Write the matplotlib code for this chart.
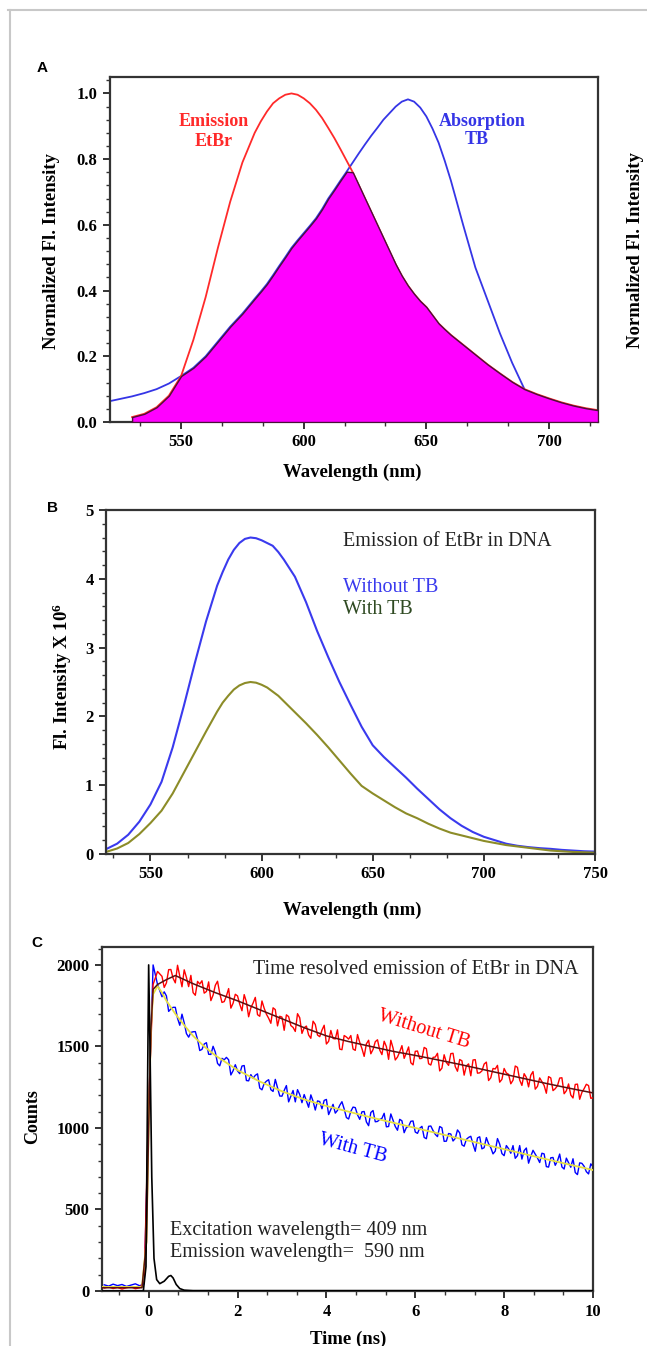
import numpy as np
import matplotlib
matplotlib.use('Agg')
import matplotlib.pyplot as plt
from matplotlib.ticker import MultipleLocator, AutoMinorLocator
from matplotlib.lines import Line2D

# ---- panel A: normalised spectra (overlap of EtBr emission and TB absorption)
wl_a = [520, 525, 530, 535, 540, 545, 550, 555, 560, 565, 570, 575, 580, 582.5, 585,
        587.5, 590, 592.5, 595, 597.5, 600, 602.5, 605, 607.5, 610, 612.5, 615, 617.5,
        620, 622.5, 625, 627.5, 630, 632.5, 635, 637.5, 640, 642.5, 645, 647.5, 650,
        652.5, 655, 657.5, 660, 665, 670, 675, 680, 685, 690, 695, 700, 705, 710, 715, 720]
emission_etbr = [np.nan, np.nan, 0.015, 0.025, 0.045, 0.08, 0.14, 0.25, 0.38, 0.53, 0.67,
                 0.79, 0.88, 0.915, 0.945, 0.97, 0.985, 0.996, 1.0, 0.996, 0.985, 0.97,
                 0.95, 0.925, 0.895, 0.864, 0.83, 0.795, 0.76, 0.72, 0.68, 0.64, 0.60,
                 0.56, 0.52, 0.48, 0.445, 0.415, 0.39, 0.368, 0.35, 0.325, 0.30, 0.282,
                 0.265, 0.235, 0.205, 0.175, 0.148, 0.122, 0.10, 0.085, 0.072, 0.06,
                 0.05, 0.042, 0.036]
absorption_tb = [0.062, 0.07, 0.078, 0.088, 0.10, 0.117, 0.14, 0.165, 0.20, 0.245, 0.29,
                 0.33, 0.375, 0.397, 0.42, 0.447, 0.475, 0.502, 0.53, 0.553, 0.575, 0.597,
                 0.62, 0.648, 0.68, 0.707, 0.735, 0.762, 0.79, 0.818, 0.845, 0.871, 0.895,
                 0.92, 0.94, 0.96, 0.975, 0.982, 0.975, 0.957, 0.93, 0.893, 0.85, 0.795,
                 0.735, 0.60, 0.47, 0.37, 0.27, 0.18, 0.10, 0.05, 0.02, 0.005, 0.0,
                 np.nan, np.nan]

# ---- panel B: steady state emission of EtBr in DNA
wl_b = [530, 535, 540, 545, 550, 555, 560, 565, 570, 575, 580, 582.5, 585, 587.5, 590,
        592.5, 595, 597.5, 600, 602.5, 605, 607.5, 610, 615, 620, 625, 630, 635, 640,
        645, 650, 655, 660, 665, 670, 675, 680, 685, 690, 695, 700, 705, 710, 715, 720,
        725, 730, 735, 740, 745, 750]
without_tb = [0.07, 0.15, 0.28, 0.47, 0.72, 1.05, 1.55, 2.15, 2.78, 3.38, 3.90, 4.10, 4.28,
              4.42, 4.52, 4.58, 4.60, 4.59, 4.56, 4.52, 4.48, 4.39, 4.28, 4.03, 3.66,
              3.24, 2.86, 2.50, 2.17, 1.85, 1.58, 1.41, 1.26, 1.11, 0.95, 0.80, 0.65,
              0.52, 0.41, 0.32, 0.25, 0.20, 0.15, 0.12, 0.10, 0.085, 0.075, 0.06, 0.05,
              0.04, 0.035]
with_tb = [0.03, 0.08, 0.16, 0.29, 0.45, 0.63, 0.88, 1.18, 1.48, 1.78, 2.07, 2.20, 2.30,
           2.39, 2.45, 2.485, 2.50, 2.49, 2.46, 2.42, 2.36, 2.30, 2.22, 2.06, 1.90, 1.73,
           1.55, 1.36, 1.17, 0.99, 0.88, 0.78, 0.68, 0.59, 0.52, 0.44, 0.37, 0.31, 0.27,
           0.23, 0.19, 0.16, 0.13, 0.11, 0.09, 0.07, 0.05, 0.04, 0.03, 0.025, 0.02]

# ---- panel C: time resolved decays (channels before the pulse, then 0.3-10 ns, and the
# in-between channels 0.35-9.95 ns)
t_early = np.round(np.arange(-1.0, 0.25, 0.1), 2)
t_main = np.round(np.arange(0.3, 10.01, 0.1), 2)
t_mid = np.round(np.arange(0.35, 9.96, 0.1), 2)
red_early = [18, 25, 15, 22, 12, 20, 26, 14, 20, 60, 1150, 1880, 1960]
red_main = [1930, 1890, 1972, 1890, 1932, 1970, 1867, 1830, 1899, 1903, 1837, 1781,
            1875, 1825, 1775, 1855, 1765, 1810, 1719, 1773, 1737, 1801, 1685, 1734,
            1673, 1737, 1626, 1680, 1694, 1628, 1592, 1676, 1615, 1570, 1655, 1570,
            1600, 1515, 1598, 1546, 1484, 1567, 1545, 1484, 1573, 1487, 1516, 1455,
            1529, 1478, 1532, 1421, 1490, 1435, 1505, 1460, 1400, 1470, 1425, 1494,
            1394, 1433, 1458, 1367, 1402, 1456, 1376, 1420, 1324, 1393, 1417, 1336,
            1350, 1404, 1308, 1362, 1281, 1365, 1329, 1293, 1372, 1261, 1310, 1324,
            1238, 1307, 1261, 1315, 1229, 1259, 1308, 1228, 1202, 1267, 1176, 1241,
            1260, 1185]
red_mid = [1862, 1971, 1918, 1998, 1866, 1923, 1936, 1814, 1883, 1827, 1896, 1815, 1900,
           1770, 1810, 1735, 1820, 1759, 1818, 1682, 1766, 1695, 1779, 1698, 1642, 1726,
           1685, 1599, 1683, 1617, 1701, 1580, 1625, 1550, 1635, 1560, 1630, 1531, 1549,
           1602, 1480, 1558, 1567, 1476, 1525, 1439, 1538, 1482, 1541, 1450, 1499, 1538,
           1417, 1467, 1427, 1497, 1387, 1472, 1427, 1486, 1386, 1435, 1350, 1449, 1384,
           1458, 1348, 1412, 1381, 1320, 1419, 1338, 1392, 1291, 1365, 1384, 1298, 1337,
           1271, 1380, 1294, 1333, 1252, 1346, 1255, 1284, 1213, 1307, 1241, 1306, 1210,
           1270, 1184, 1269, 1218, 1268, 1182]
blue_early = [38, 30, 42, 33, 40, 28, 36, 44, 32, 45, 1100, 2000, 1880]
blue_main = [1805, 1810, 1730, 1740, 1630, 1645, 1557, 1590, 1543, 1482, 1523, 1451,
             1465, 1381, 1418, 1418, 1351, 1350, 1380, 1291, 1327, 1323, 1245, 1273,
             1296, 1224, 1247, 1195, 1260, 1195, 1160, 1205, 1205, 1127, 1164, 1166,
             1118, 1175, 1113, 1091, 1139, 1117, 1055, 1128, 1081, 1099, 1037, 1095,
             1038, 1052, 1090, 1009, 1047, 986, 1044, 1003, 1041, 975, 998, 942, 1010,
             984, 947, 1001, 919, 963, 936, 970, 888, 942, 900, 939, 872, 941, 879,
             858, 901, 830, 873, 892, 830, 809, 877, 826, 839, 788, 841, 760, 819,
             798, 761, 815, 759, 727, 786, 765, 718, 762]
blue_mid = [1835, 1715, 1740, 1673, 1698, 1579, 1586, 1591, 1475, 1515, 1452, 1501, 1396,
            1427, 1433, 1325, 1388, 1333, 1383, 1289, 1305, 1332, 1234, 1287, 1235, 1298,
            1196, 1230, 1160, 1230, 1235, 1155, 1166, 1203, 1110, 1162, 1169, 1082, 1145,
            1108, 1161, 1064, 1102, 1125, 1053, 1101, 1014, 1107, 1040, 1059, 1007, 1086,
            1009, 1053, 971, 1010, 1043, 967, 1010, 934, 1012, 961, 1009, 918, 966, 920,
            988, 897, 930, 949, 857, 946, 879, 903, 841, 935, 843, 892, 845, 814, 892,
            861, 784, 863, 816, 845, 763, 817, 771, 840, 748, 787, 811, 714, 783, 732, 780]
t_fit_red = [-1.05, -0.15, -0.05, 0.0, 0.05, 0.1, 0.2, 0.4, 0.6, 1.0, 1.5, 2.0, 2.5, 3.0,
             3.5, 4.0, 4.5, 5.0, 5.5, 6.0, 6.5, 7.0, 7.5, 8.0, 8.5, 9.0, 9.5, 10.0]
fit_red = [20, 20, 300, 1000, 1600, 1850, 1880, 1910, 1935, 1885, 1830, 1780, 1725, 1670,
           1615, 1565, 1530, 1500, 1470, 1445, 1418, 1390, 1360, 1330, 1300, 1270, 1242, 1215]
t_fit_blue = [-1.05, -0.15, -0.05, 0.0, 0.05, 0.1, 0.2, 0.3, 0.4, 0.6, 0.8, 1.0, 1.25, 1.5,
              2.0, 2.5, 3.0, 3.5, 4.0, 5.0, 6.0, 7.0, 8.0, 9.0, 10.0]
fit_blue = [25, 25, 300, 1000, 1600, 1820, 1870, 1830, 1780, 1700, 1630, 1565, 1500, 1445,
            1355, 1285, 1225, 1175, 1135, 1065, 1000, 935, 870, 805, 742]
t_irf = [-1.05, -0.12, -0.06, -0.02, 0.0, 0.03, 0.07, 0.12, 0.18, 0.25, 0.35, 0.45, 0.5,
         0.55, 0.62, 0.7, 0.8, 1.0, 2.0, 10.0]
irf = [0, 0, 150, 1400, 2000, 1500, 700, 200, 70, 45, 60, 90, 95, 80, 40, 15, 5, 2, 2, 2]

W, H = 647, 1346
plt.rcParams['font.family'] = 'Liberation Serif'
plt.rcParams['font.weight'] = 'bold'
plt.rcParams['mathtext.fontset'] = 'custom'
plt.rcParams['mathtext.rm'] = 'Liberation Serif:bold'
plt.rcParams['mathtext.default'] = 'rm'

fig = plt.figure(figsize=(W / 100, H / 100), dpi=100)


def add_ax(left, top, right, bottom):
    return fig.add_axes([left / W, 1 - bottom / H, (right - left) / W, (bottom - top) / H])


def style(ax):
    for s in ax.spines.values():
        s.set_linewidth(1.6)
        s.set_color('#333333')
    ax.tick_params(which='both', direction='out', top=False, right=False, color='#333333')
    ax.tick_params(which='major', length=5, width=1.4, labelsize=12, pad=4)
    ax.tick_params(which='minor', length=3, width=1.0)


def ftext(x, y, s, **kw):
    return fig.text(x / W, 1 - y / H, s, **kw)


def merge(t_parts, v_parts):
    t = np.concatenate(t_parts)
    v = np.concatenate([np.asarray(p, float) for p in v_parts])
    order = np.argsort(t, kind='stable')
    return t[order], v[order]


# frame around the figure
fig.add_artist(Line2D([8 / W, 1], [1 - 10 / H, 1 - 10 / H], color='#c8c8c8', lw=1.5))
fig.add_artist(Line2D([10 / W, 10 / W], [1 - 10 / H, 0], color='#c8c8c8', lw=1.5))

# ---------------- A
wl = np.array(wl_a)
em = np.array(emission_etbr)
ab = np.array(absorption_tb)
overlap = np.where(wl < 690, np.minimum(em, ab), em)

ax = add_ax(110, 77, 598, 422)
ax.plot(wl, ab, color='#3535e6', lw=1.3, zorder=2)
ax.plot(wl, em, color='#ff2a2a', lw=1.3, zorder=2)
ax.fill_between(wl, 0, overlap, where=~np.isnan(overlap), facecolor='#ff00ff',
                edgecolor='#4a1038', lw=1.0, zorder=3)
ax.set_xlim(521, 720)
ax.set_ylim(0, 1.05)
ax.xaxis.set_major_locator(MultipleLocator(50))
ax.xaxis.set_minor_locator(AutoMinorLocator(3))
ax.yaxis.set_major_locator(MultipleLocator(0.2))
ax.yaxis.set_minor_locator(AutoMinorLocator(5))
ax.yaxis.set_major_formatter(lambda v, p: f'{v:.1f}')
style(ax)

ftext(214, 121, 'Emission', color='#ff2a2a', fontsize=13, ha='center', va='center')
ftext(214, 141, 'EtBr', color='#ff2a2a', fontsize=13, ha='center', va='center')
ftext(482, 121, 'Absorption', color='#3535e6', fontsize=13, ha='center', va='center')
ftext(477, 140, 'TB', color='#3535e6', fontsize=13, ha='center', va='center')
ftext(52, 251, 'Normalized Fl. Intensity', fontsize=13.5, rotation=90, ha='center', va='center')
ftext(635, 250, 'Normalized Fl. Intensity', fontsize=13.5, rotation=90, ha='center', va='center')
ftext(352, 472, 'Wavelength (nm)', fontsize=13.5, ha='center', va='center')
ftext(42, 68, 'A', family='Liberation Sans', fontsize=11, ha='center', va='center')

# ---------------- B
ax = add_ax(106, 510, 595, 854)
ax.plot(wl_b, without_tb, color='#3a3aee', lw=1.5)
ax.plot(wl_b, with_tb, color='#8c8c28', lw=1.5)
ax.set_xlim(530, 750)
ax.set_ylim(0, 5)
ax.xaxis.set_major_locator(MultipleLocator(50))
ax.xaxis.set_minor_locator(AutoMinorLocator(3))
ax.yaxis.set_major_locator(MultipleLocator(1))
ax.yaxis.set_minor_locator(AutoMinorLocator(5))
style(ax)

ftext(343, 542, 'Emission of EtBr in DNA', fontsize=14.5, fontweight='normal', color='#222222', va='center')
ftext(343, 587, 'Without TB', fontsize=14.5, fontweight='normal', color='#3a3aee', va='center')
ftext(343, 610, 'With TB', fontsize=14.5, fontweight='normal', color='#2f4a22', va='center')
ftext(62, 677, r'Fl. Intensity X 10$^6$', fontsize=13.5, rotation=90, ha='center', va='center')
ftext(352, 910, 'Wavelength (nm)', fontsize=13.5, ha='center', va='center')
ftext(53, 508, 'B', family='Liberation Sans', fontsize=11, ha='center', va='center')

# ---------------- C
t_red, v_red = merge([t_early, t_main, t_mid], [red_early, red_main, red_mid])
t_blue, v_blue = merge([t_early, t_main, t_mid], [blue_early, blue_main, blue_mid])

ax = add_ax(102, 947, 593, 1291)
ax.plot(t_blue, v_blue, color='#0000ff', lw=1.0, zorder=2)
ax.plot(t_red, v_red, color='#ff0000', lw=1.0, zorder=3)
ax.plot(t_fit_blue, fit_blue, color='#e6e040', lw=1.3, zorder=4)
ax.plot(t_fit_red, fit_red, color='#5a1010', lw=1.1, zorder=4)
ax.plot(t_irf, irf, color='#000000', lw=1.2, zorder=5)
ax.set_xlim(-1.05, 10)
ax.set_ylim(0, 2110)
ax.xaxis.set_major_locator(MultipleLocator(2))
ax.xaxis.set_minor_locator(AutoMinorLocator(3))
ax.yaxis.set_major_locator(MultipleLocator(500))
ax.yaxis.set_minor_locator(AutoMinorLocator(5))
style(ax)

ftext(253, 969, 'Time resolved emission of EtBr in DNA', fontsize=14.5, fontweight='normal',
      color='#222222', va='center')
ftext(424, 1030, 'Without TB', fontsize=14.5, fontweight='normal', color='#ff0000',
      rotation=-17, ha='center', va='center', rotation_mode='anchor')
ftext(353, 1149, 'With TB', fontsize=14.5, fontweight='normal', color='#0000ff',
      rotation=-15, ha='center', va='center', rotation_mode='anchor')
ftext(170, 1231, 'Excitation wavelength= 409 nm', fontsize=14.5, fontweight='normal',
      color='#222222', va='center')
ftext(170, 1253, 'Emission wavelength=  590 nm', fontsize=14.5, fontweight='normal',
      color='#222222', va='center')
ftext(33, 1117, 'Counts', fontsize=13, rotation=90, ha='center', va='center')
ftext(348, 1331, 'Time (ns)', fontsize=13.5, ha='center', va='top')
ftext(37, 943, 'C', family='Liberation Sans', fontsize=11, ha='center', va='center')

fig.savefig('out.png', dpi=100)
